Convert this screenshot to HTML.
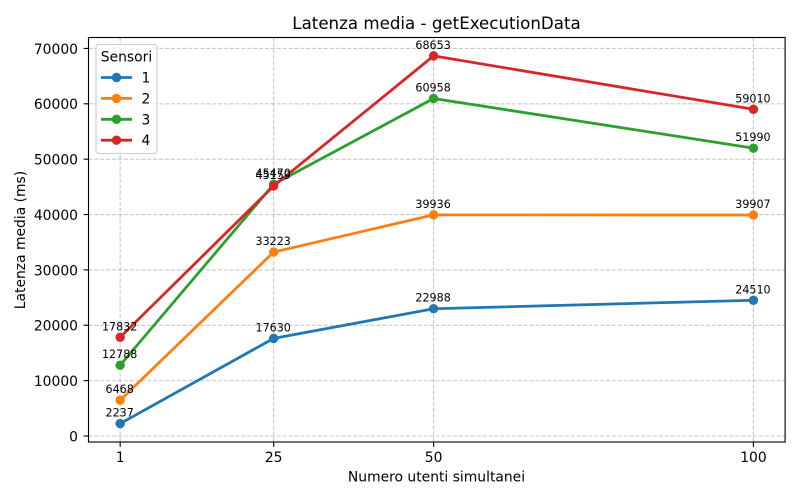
<!DOCTYPE html>
<html lang="it">
<head>
<meta charset="utf-8">
<title>Latenza media - getExecutionData</title>
<style>
html,body{margin:0;padding:0;background:#fff;width:800px;height:500px;overflow:hidden}
svg{display:block;font-family:"DejaVu Sans",sans-serif;fill:#000}
</style>
</head>
<body>
<svg id="chart" width="800" height="500" viewBox="0 0 800 500" xmlns="http://www.w3.org/2000/svg">
  <rect x="0" y="0" width="800" height="500" fill="#fff"/>
  <g id="grid"></g>
  <g id="series"></g>
  <g id="labels"></g>
  <rect x="88.5" y="37.5" width="696.6" height="404.5" fill="none" stroke="#000" stroke-width="1.11"/>
  <g id="ticks"></g>
  <text x="436.5" y="29" font-size="16.67" text-anchor="middle">Latenza media - getExecutionData</text>
  <text x="436.5" y="481.5" font-size="13.89" text-anchor="middle">Numero utenti simultanei</text>
  <text x="0" y="0" font-size="13.89" text-anchor="middle" transform="translate(25,240) rotate(-90)">Latenza media (ms)</text>
  <g id="legend">
    <rect x="96" y="44.5" width="61" height="109" rx="3" ry="3" fill="#fff" fill-opacity="0.8" stroke="#ccc" stroke-width="1.11"/>
    <text x="126.5" y="61.5" font-size="13.89" text-anchor="middle">Sensori</text>
  </g>
</svg>
<script>
const categories = [1, 25, 50, 100];
const sensorNames = ['1', '2', '3', '4'];
const sensor1Values = [2237, 17630, 22988, 24510];
const sensor2Values = [6468, 33223, 39936, 39907];
const sensor3Values = [12788, 45470, 60958, 51990];
const sensor4Values = [17832, 45159, 68653, 59010];
const yTickValues = [0, 10000, 20000, 30000, 40000, 50000, 60000, 70000];

const seriesValues = [sensor1Values, sensor2Values, sensor3Values, sensor4Values];
const seriesColors = ['#1f77b4', '#ff7f0e', '#2ca02c', '#d62728'];

const NS = 'http://www.w3.org/2000/svg';
const plot = { left: 88.5, right: 785.1, top: 37.5, bottom: 442 };

const xMin = Math.min(...categories);
const xMax = Math.max(...categories);
const xPad = (xMax - xMin) * 0.05;
const allValues = seriesValues.flat();
const yMin = Math.min(...allValues);
const yMax = Math.max(...allValues);
const yPad = (yMax - yMin) * 0.05;

function xScale(v) {
  return plot.left + (v - (xMin - xPad)) / ((xMax + xPad) - (xMin - xPad)) * (plot.right - plot.left);
}
function yScale(v) {
  return plot.bottom - (v - (yMin - yPad)) / ((yMax + yPad) - (yMin - yPad)) * (plot.bottom - plot.top);
}
function make(tag, parent, attrs) {
  const el = document.createElementNS(NS, tag);
  for (const k in attrs) el.setAttribute(k, attrs[k]);
  parent.appendChild(el);
  return el;
}

const gridG = document.getElementById('grid');
const ticksG = document.getElementById('ticks');
const seriesG = document.getElementById('series');
const labelsG = document.getElementById('labels');
const legendG = document.getElementById('legend');
const gridStyle = { stroke: '#b0b0b0', 'stroke-opacity': 0.7, 'stroke-width': 1.11, 'stroke-dasharray': '4.1 1.78', fill: 'none' };

categories.forEach(function (c) {
  const x = xScale(c);
  const g = make('line', gridG, Object.assign({ x1: x, x2: x, y1: plot.top, y2: plot.bottom }, gridStyle));
  
  
  const t = make('line', ticksG, { x1: x, x2: x, y1: plot.bottom, y2: plot.bottom + 4.86, stroke: '#000', 'stroke-width': 1.11 });
  
  
  const l = make('text', ticksG, { x: x, y: plot.bottom + 20, 'font-size': 13.89, 'text-anchor': 'middle' });
  l.textContent = String(c);
  
  
});

yTickValues.forEach(function (v) {
  const y = yScale(v);
  const g = make('line', gridG, Object.assign({ x1: plot.left, x2: plot.right, y1: y, y2: y }, gridStyle));
  
  
  const t = make('line', ticksG, { x1: plot.left - 4.86, x2: plot.left, y1: y, y2: y, stroke: '#000', 'stroke-width': 1.11 });
  
  
  const l = make('text', ticksG, { x: plot.left - 10.5, y: y + 5.4, 'font-size': 13.89, 'text-anchor': 'end' });
  l.textContent = String(v);
  
  
});

seriesValues.forEach(function (values, i) {
  const color = seriesColors[i];
  const pts = values.map(function (v, j) { return xScale(categories[j]) + ',' + yScale(v); }).join(' ');
  const line = make('polyline', seriesG, { points: pts, fill: 'none', stroke: color, 'stroke-width': 2.78, 'stroke-linejoin': 'round', 'stroke-linecap': 'square' });
  
  
  values.forEach(function (v, j) {
    const cx = xScale(categories[j]);
    const cy = yScale(v);
    const dot = make('circle', seriesG, { cx: cx, cy: cy, r: 4.7, fill: color });
    
    
    const label = make('text', labelsG, { x: cx - 0.5, y: cy - 7, 'font-size': 11.11, 'text-anchor': 'middle' });
    label.textContent = String(v);
    
    
  });

  const ly = 77.5 + i * 20.9;
  const ll = make('line', legendG, { x1: 101, x2: 132, y1: ly, y2: ly, stroke: color, 'stroke-width': 2.78 });
  
  
  const lm = make('circle', legendG, { cx: 116.5, cy: ly, r: 4.7, fill: color });
  
  
  const lt = make('text', legendG, { x: 141.5, y: ly + 5, 'font-size': 13.89 });
  lt.textContent = sensorNames[i];
  
  
});
</script>
</body>
</html>
